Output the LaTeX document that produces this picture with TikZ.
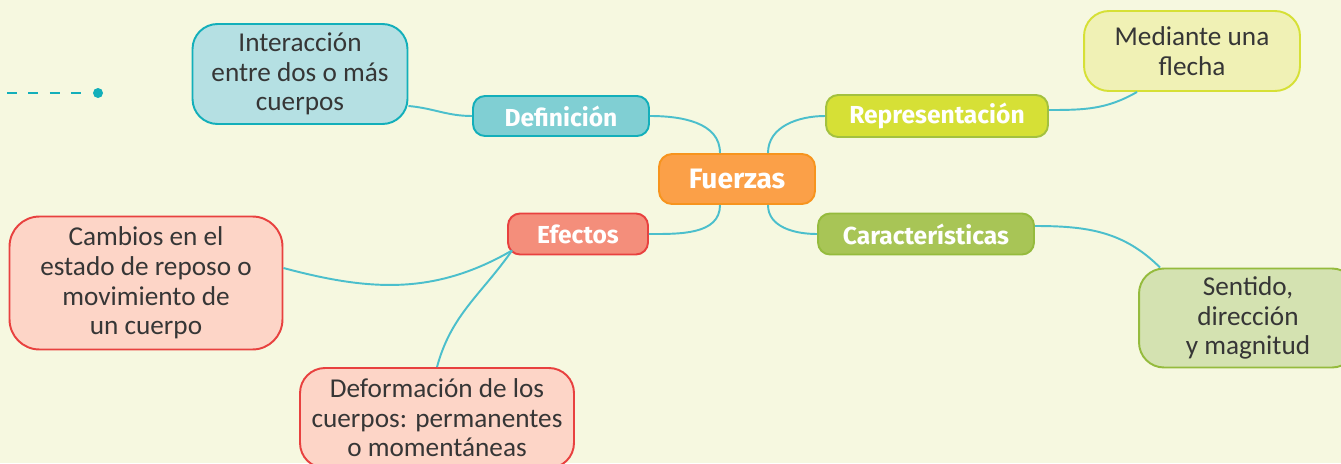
\documentclass[tikz,border=0pt]{standalone}
\usepackage{fontspec}
\setmainfont{Carlito}
\newfontfamily\branchfont{Fira Sans}
\usetikzlibrary{positioning,calc}
\definecolor{cbg}{HTML}{F6F8E0}
\definecolor{clink}{HTML}{4BBFCC}
\definecolor{cteal}{HTML}{13AFBA}
\definecolor{ctxt}{HTML}{363636}
\definecolor{croot}{HTML}{FBA048}
\definecolor{crootd}{HTML}{F7941E}
\definecolor{cdef}{HTML}{80CFD3}
\definecolor{cdefl}{HTML}{B5E0E3}
\definecolor{crep}{HTML}{D6E036}
\definecolor{crepd}{HTML}{A3C13F}
\definecolor{crepl}{HTML}{F0F1B5}
\definecolor{ceff}{HTML}{F48E7B}
\definecolor{ceffd}{HTML}{E8413F}
\definecolor{ceffl}{HTML}{FDD5C7}
\definecolor{ccar}{HTML}{A8C556}
\definecolor{ccard}{HTML}{95BB3D}
\definecolor{ccarl}{HTML}{D4E2B1}

\begin{document}
\begin{tikzpicture}[x=0.02cm,y=-0.02cm,
  root/.style={draw=crootd,fill=croot,line width=1.1pt,rounded corners=0.26cm,inner sep=0pt,
    minimum width=3.12cm,minimum height=1.0cm,text=white,font=\branchfont\bfseries\fontsize{16}{18}\selectfont},
  branch/.style 2 args={draw=#2,fill=#1,line width=1.1pt,rounded corners=0.24cm,inner sep=0pt,
    minimum height=0.82cm,text=white,font=\branchfont\bfseries\fontsize{14}{16}\selectfont},
  leaf/.style 2 args={draw=#2,fill=#1,line width=1.1pt,rounded corners=0.5cm,inner sep=0pt,
    align=center,text=ctxt,font=\fontsize{15.5}{16.8}\selectfont},
  link/.style={draw=clink,line width=1.1pt},
  dot/.style={circle,fill=cteal,inner sep=0pt,minimum size=0.2cm}]

% ===== background =====
\fill[cbg] (0,0) rectangle (1341,463);
\useasboundingbox (0,0) rectangle (1341,463);

% ===== dashed marker =====
\coordinate (dashstart) at (7,93);
\node[dot] (dashdot) at (98,93) {};
\draw[cteal,line width=1.7pt,dash pattern=on 0.2cm off 0.23cm] (dashstart) -- (dashdot);

% ===== centre and branches =====
\node[root] (fuerzas) at (737,179) {Fuerzas};
\node[branch={cdef}{cteal},minimum width=3.52cm,minimum height=0.80cm] (defin) at (561,116) {Definición};
\node[branch={crep}{crepd},minimum width=4.44cm,minimum height=0.84cm] (repres) at (937,116) {Representación};
\node[branch={ceff}{ceffd},minimum width=2.80cm] (efectos) at (578,234) {Efectos};
\node[branch={ccar}{ccard},minimum width=4.32cm] (caract) at (926,234) {Características};

% ===== leaves =====
\node[leaf={cdefl}{cteal},minimum width=4.30cm,minimum height=2.0cm] (interac) at (300,74)
  {Interacción\\entre dos o más\\cuerpos};
\node[leaf={crepl}{crep},minimum width=4.32cm,minimum height=1.6cm] (mediante) at (1192,51)
  {Mediante una\\flecha};
\node[leaf={ceffl}{ceffd},minimum width=5.46cm,minimum height=2.66cm,rounded corners=0.6cm] (cambios) at (146,283)
  {Cambios en el\\estado de reposo o\\movimiento de\\un cuerpo};
\node[leaf={ceffl}{ceffd},minimum width=5.48cm,minimum height=2.0cm] (deform) at (437,418)
  {Deformación de los\\cuerpos: permanentes\\o momentáneas};
\node[leaf={ccarl}{ccard},minimum width=4.36cm,minimum height=1.98cm] (sentido) at (1248,318)
  {Sentido,\\dirección\\y magnitud};

% ===== connectors =====
\draw[link] ([xshift=-0.34cm]fuerzas.north) to[out=90,in=0] (defin.east);
\draw[link] ([xshift=0.62cm]fuerzas.north) to[out=90,in=180] (repres.west);
\draw[link] ([xshift=-0.34cm]fuerzas.south) to[out=-90,in=0] (efectos.east);
\draw[link] ([xshift=0.62cm]fuerzas.south) to[out=-90,in=180] (caract.west);
\draw[link] (defin.west) to[out=180,in=-5] ([yshift=-0.64cm]interac.east);
\draw[link] ([yshift=0.12cm]repres.east) to[out=0,in=-150] ([xshift=-1.1cm]mediante.south);
\draw[link] ([yshift=0.16cm]caract.east) to[out=0,in=135] ([xshift=-1.76cm]sentido.north);
\draw[link] ([shift={(0.1cm,0.1cm)}]efectos.south west) to[out=-150,in=-15] ([yshift=0.3cm]cambios.east);
\draw[link] ([shift={(0.1cm,0.1cm)}]efectos.south west) to[out=-125,in=75] (deform.north);
\end{tikzpicture}
\end{document}
